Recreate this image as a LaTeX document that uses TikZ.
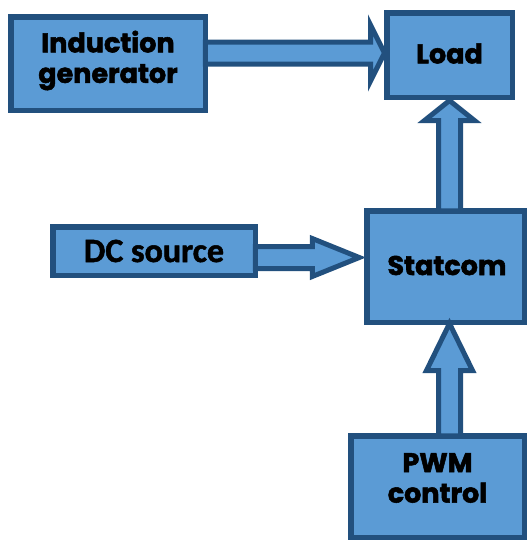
\documentclass[tikz,border=0pt]{standalone}
\usepackage{fontspec}
\newfontfamily\geofont[BoldFeatures={FakeBold=2}]{Poppins}
\newfontfamily\calfont[BoldFeatures={FakeBold=1.5}]{Carlito}
\usetikzlibrary{calc}
\definecolor{boxfill}{HTML}{5B9BD5}
\definecolor{boxline}{HTML}{22507E}
\newcommand\blockarrow[5]{%
  \coordinate (ba-c) at ($(#2)!#5!(#1)$);
  \draw[arr] ($(#1)!#3!90:(#2)$) -- ($(ba-c)!#3!90:(#2)$) -- ($(ba-c)!#4!90:(#2)$) -- (#2)
    -- ($(ba-c)!#4!-90:(#2)$) -- ($(ba-c)!#3!-90:(#2)$) -- ($(#1)!#3!-90:(#2)$) -- cycle;}
\begin{document}
\begin{tikzpicture}[x=1pt,y=-1pt,
  blk/.style={draw=boxline, fill=boxfill, line width=5.5pt, inner sep=0pt, outer sep=0pt},
  txt/.style={inner sep=0pt, align=center, text=black},
  geo/.style={font=\geofont\bfseries\fontsize{27}{30.5}\selectfont},
  cal/.style={font=\calfont\bfseries\fontsize{34}{36}\selectfont},
  arr/.style={draw=boxline, fill=boxfill, line width=5pt, line join=miter, miter limit=20}]
\useasboundingbox (0,0) rectangle (527,542);
\node[blk, minimum width=194.5pt, minimum height=93.5pt] (gen) at (108,63.5) {};
\node[blk, minimum width=125.5pt, minimum height=84.5pt] (load) at (449.5,55) {};
\node[blk, minimum width=157.5pt, minimum height=111.5pt] (statcom) at (445.5,266.5) {};
\node[blk, minimum width=202.5pt, minimum height=48.5pt] (dc) at (154,251) {};
\node[blk, minimum width=173.5pt, minimum height=101.5pt] (pwm) at (437.5,486.5) {};
\node[txt, geo] (gent) at ([yshift=3pt]gen.center) {Induction\\generator};
\node[txt, geo] (loadt) at ([yshift=1.5pt]load.center) {Load};
\node[txt, geo] (statcomt) at ([shift={(1.5pt,1pt)}]statcom.center) {Statcom};
\node[txt, cal] (dct) at (dc.center) {DC source};
\node[txt, geo] (pwmt) at ([yshift=8.5pt]pwm.center) {PWM\\control};
% connectors
\coordinate (a1e) at ([shift={(-2.25pt,2pt)}]load.west);
\coordinate (a1s) at (gen.east |- a1e);
\blockarrow{a1s}{a1e}{11pt}{28pt}{14pt}
\coordinate (a2e) at ([yshift=-3.25pt]load.south);
\coordinate (a2s) at (statcom.north -| a2e);
\blockarrow{a2s}{a2e}{11pt}{25pt}{20pt}
\coordinate (a3s) at ([yshift=-6.5pt]dc.east);
\coordinate (a3e) at ($(statcom.west |- a3s)+(-7.5pt,0pt)$);
\blockarrow{a3s}{a3e}{11pt}{19pt}{47pt}
\coordinate (a4e) at ([shift={(4pt,-1.25pt)}]statcom.south);
\coordinate (a4s) at (pwm.north -| a4e);
\blockarrow{a4s}{a4e}{11pt}{23pt}{47pt}
\end{tikzpicture}
\end{document}
